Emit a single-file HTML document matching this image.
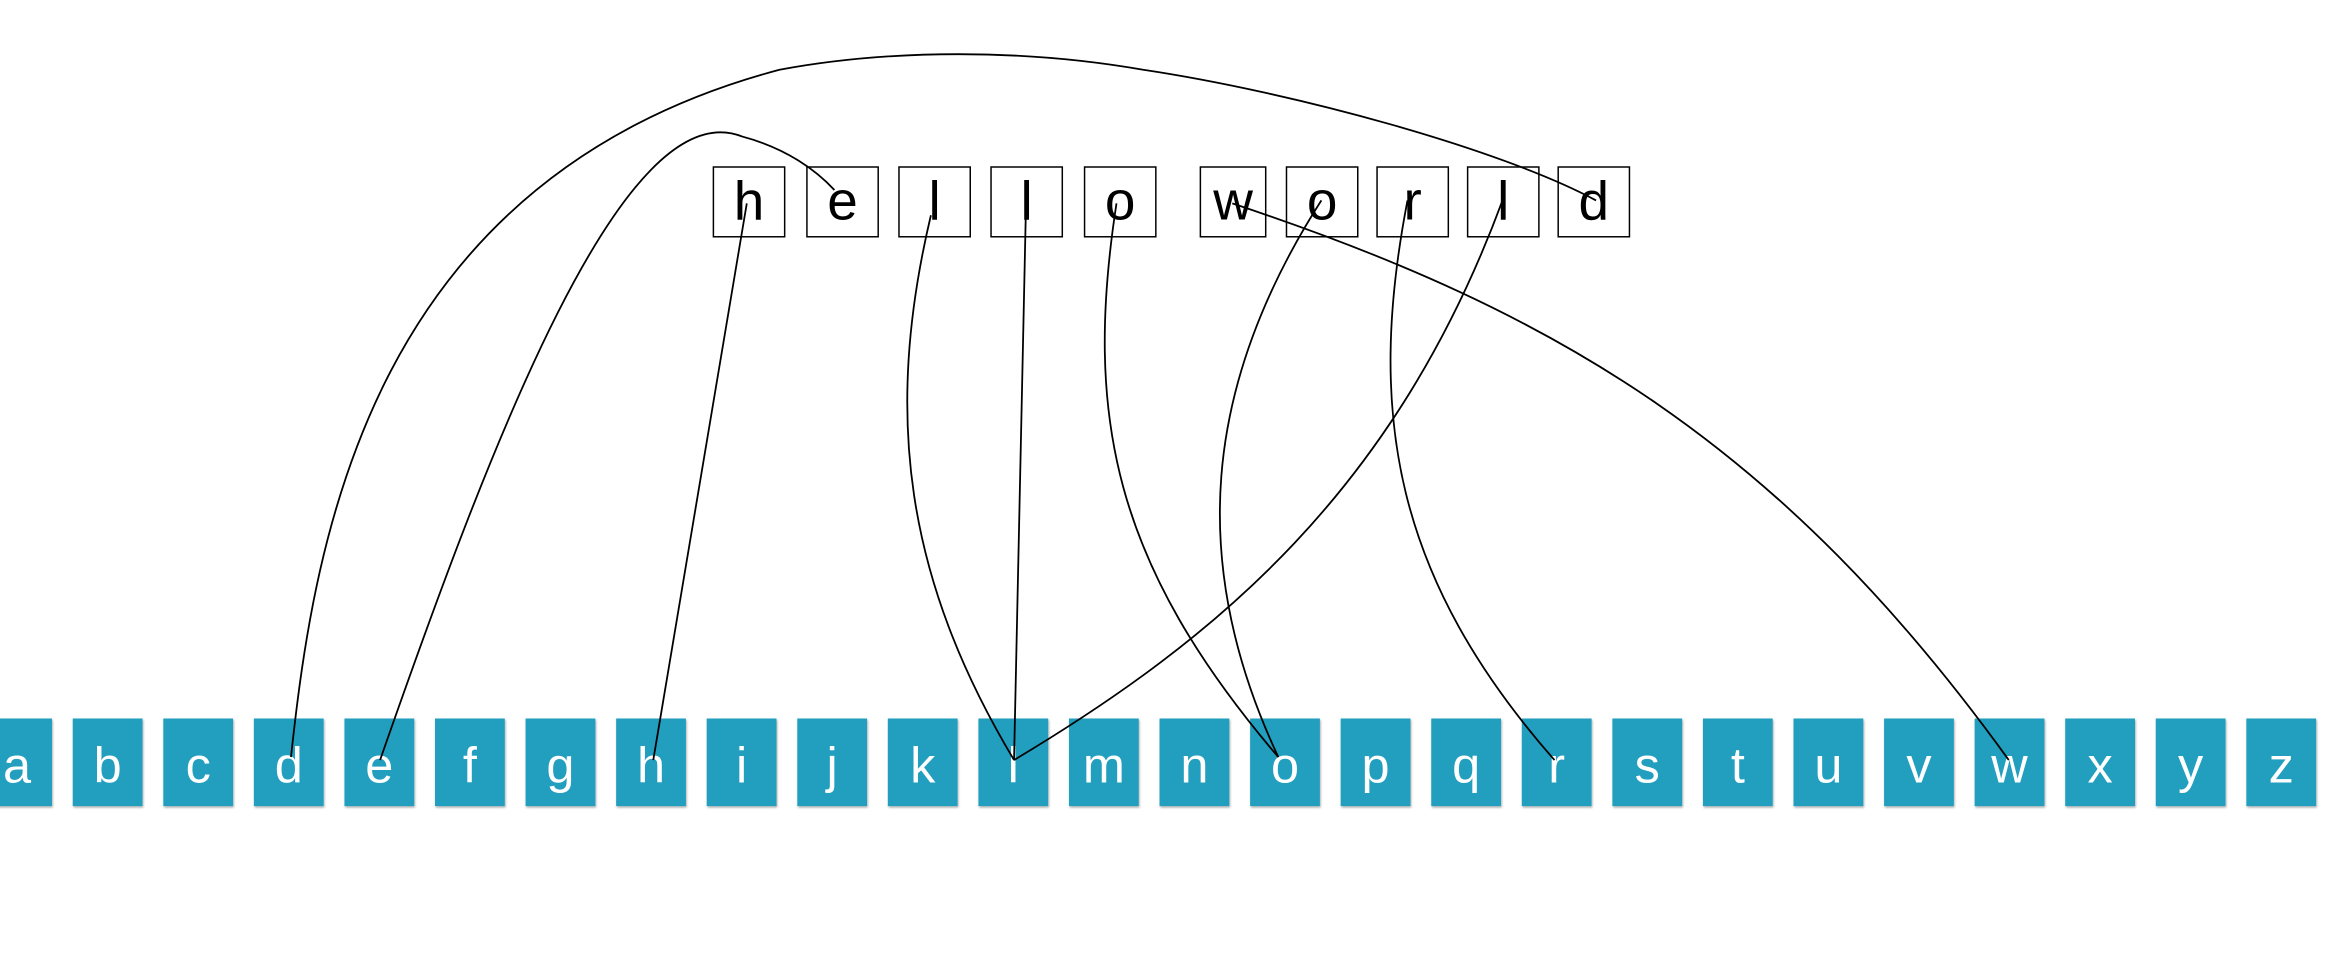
<!DOCTYPE html>
<html><head><meta charset="utf-8"><style>
html,body{margin:0;padding:0;background:#fff;width:2328px;height:956px;overflow:hidden}
svg{display:block}
</style></head><body>
<svg width="2328" height="956" viewBox="0 0 1568 644" preserveAspectRatio="none" xmlns="http://www.w3.org/2000/svg">
<defs><filter id="sh" x="-20%" y="-20%" width="140%" height="140%"><feDropShadow dx="0.5" dy="1" stdDeviation="0.8" flood-color="#000" flood-opacity="0.35"/></filter></defs>
<g fill="#209fbe" filter="url(#sh)">
<rect x="-12" y="484" width="47" height="59"/><rect x="49" y="484" width="47" height="59"/><rect x="110" y="484" width="47" height="59"/><rect x="171" y="484" width="47" height="59"/><rect x="232" y="484" width="47" height="59"/><rect x="293" y="484" width="47" height="59"/><rect x="354" y="484" width="47" height="59"/><rect x="415" y="484" width="47" height="59"/><rect x="476" y="484" width="47" height="59"/><rect x="537" y="484" width="47" height="59"/><rect x="598" y="484" width="47" height="59"/><rect x="659" y="484" width="47" height="59"/><rect x="720" y="484" width="47" height="59"/><rect x="781" y="484" width="47" height="59"/><rect x="842" y="484" width="47" height="59"/><rect x="903" y="484" width="47" height="59"/><rect x="964" y="484" width="47" height="59"/><rect x="1025" y="484" width="47" height="59"/><rect x="1086" y="484" width="47" height="59"/><rect x="1147" y="484" width="47" height="59"/><rect x="1208" y="484" width="47" height="59"/><rect x="1269" y="484" width="47" height="59"/><rect x="1330" y="484" width="47" height="59"/><rect x="1391" y="484" width="47" height="59"/><rect x="1452" y="484" width="47" height="59"/><rect x="1513" y="484" width="47" height="59"/>
</g>
<g fill="#fff" font-family="Liberation Sans, sans-serif" font-size="34" text-anchor="middle">
<text x="11.5" y="527">a</text><text x="72.5" y="527">b</text><text x="133.5" y="527">c</text><text x="194.5" y="527">d</text><text x="255.5" y="527">e</text><text x="316.5" y="527">f</text><text x="377.5" y="527">g</text><text x="438.5" y="527">h</text><text x="499.5" y="527">i</text><text x="560.5" y="527">j</text><text x="621.5" y="527">k</text><text x="682.5" y="527">l</text><text x="743.5" y="527">m</text><text x="804.5" y="527">n</text><text x="865.5" y="527">o</text><text x="926.5" y="527">p</text><text x="987.5" y="527">q</text><text x="1048.5" y="527">r</text><text x="1109.5" y="527">s</text><text x="1170.5" y="527">t</text><text x="1231.5" y="527">u</text><text x="1292.5" y="527">v</text><text x="1353.5" y="527">w</text><text x="1414.5" y="527">x</text><text x="1475.5" y="527">y</text><text x="1536.5" y="527">z</text>
</g>
<g fill="#fff" stroke="#000" stroke-width="1">
<rect x="480.5" y="112.5" width="48" height="47"/><rect x="543.5" y="112.5" width="48" height="47"/><rect x="605.5" y="112.5" width="48" height="47"/><rect x="667.5" y="112.5" width="48" height="47"/><rect x="730.5" y="112.5" width="48" height="47"/><rect x="808.5" y="112.5" width="44" height="47"/><rect x="866.5" y="112.5" width="48" height="47"/><rect x="927.5" y="112.5" width="48" height="47"/><rect x="988.5" y="112.5" width="48" height="47"/><rect x="1049.5" y="112.5" width="48" height="47"/>
</g>
<g fill="#000" font-family="Liberation Sans, sans-serif" font-size="37" text-anchor="middle">
<text x="504.5" y="148">h</text><text x="567.5" y="148">e</text><text x="629.5" y="148">l</text><text x="691.5" y="148">l</text><text x="754.5" y="148">o</text><text x="830.5" y="148">w</text><text x="890.5" y="148">o</text><text x="951.5" y="148">r</text><text x="1012.5" y="148">l</text><text x="1073.5" y="148">d</text>
</g>
<g fill="none" stroke="#000" stroke-width="1.2">
<path d="M196,510 C212,360 250,120 525,47 C600,33 690,33 770,47 C870,62 1010,100 1075,135"/>
<path d="M256,512 C330,300 420,60 500,92 C530,100 550,115 562,128"/>
<path d="M440,512 L503,137"/>
<path d="M627,145 C595,280 610,390 683,512"/>
<path d="M691,140 L683,512"/>
<path d="M752,137 C730,280 750,380 861,510"/>
<path d="M830,137 C1050,210 1200,300 1353,512"/>
<path d="M890,135 C810,260 800,380 861,510"/>
<path d="M948,135 C920,280 940,390 1047,512"/>
<path d="M1012,135 C940,330 820,430 683,512"/>
</g>
</svg>
</body></html>
